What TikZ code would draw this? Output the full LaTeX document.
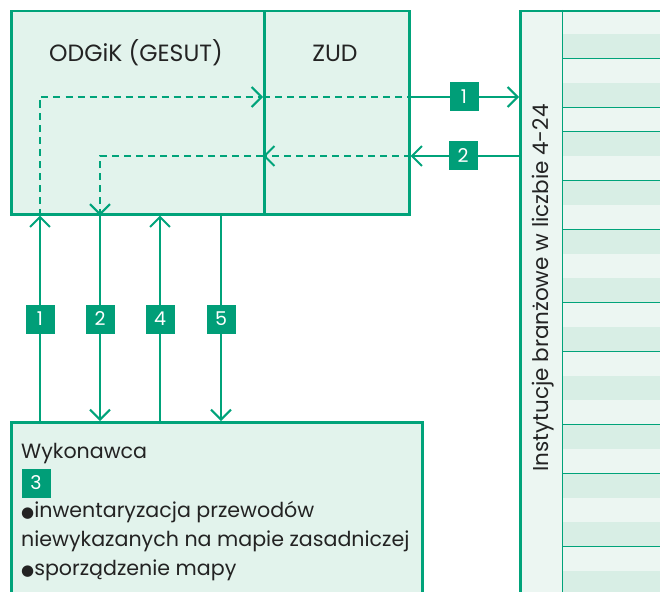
\documentclass[tikz,border=0pt]{standalone}
\usepackage{fontspec}
\setmainfont{Poppins}
\newfontfamily\symfont{DejaVu Sans}
\usetikzlibrary{arrows.meta}
\definecolor{lgreen}{RGB}{0,163,122}
\definecolor{boxfill}{RGB}{226,243,236}
\definecolor{rowlight}{RGB}{236,246,242}
\definecolor{rowdark}{RGB}{216,238,229}
\definecolor{numgreen}{RGB}{0,158,120}
\definecolor{txt}{RGB}{35,35,35}
\newcommand\bul{{\symfont\fontsize{15bp}{15bp}\selectfont ●}}
\tikzset{
  panel/.style={draw=lgreen, line width=2.5bp, fill=boxfill, anchor=north west, inner sep=0pt},
  flow/.style={draw=lgreen, line width=2bp},
  dashflow/.style={flow, dash pattern=on 7bp off 5bp},
  arrowto/.style={-{Straight Barb[length=10bp,width=20bp,line width=2bp]}},
  num/.style={fill=numgreen, text=white, minimum size=29bp, inner sep=0pt,
    font=\fontsize{19bp}{19bp}\selectfont},
  lbl/.style={text=txt, font=\fontsize{20.6bp}{29bp}\selectfont, inner sep=0pt},
  title/.style={lbl, font=\fontsize{23.5bp}{29bp}\selectfont},
  sidetitle/.style={lbl, font=\fontsize{21.5bp}{29bp}\selectfont},
}
\begin{document}
\begin{tikzpicture}[x=1bp,y=-1bp]
\clip (0,0) rectangle (660,592);
\fill[white] (0,0) rectangle (660,592);

% institutions column with striped rows
\fill[rowlight] (519,10) rectangle (562,600);
\foreach \i in {0,...,24}{
  \pgfmathsetmacro\ya{10+24.4*\i}
  \pgfmathsetmacro\yb{10+24.4*(\i+1)}
  \pgfmathparse{mod(\i,2)==0 ? "rowlight" : "rowdark"}
  \fill[\pgfmathresult] (562,\ya) rectangle (670,\yb);
  \draw[lgreen, line width=1bp] (562,\yb) -- (670,\yb);
}
\draw[lgreen, line width=1bp] (562,10) -- (562,600);
\node[draw=lgreen, line width=2.5bp, anchor=north west, minimum width=170bp,
      minimum height=600bp, inner sep=0pt] (inst) at (519,10) {};
\node[sidetitle, rotate=90] (instT) at (543,288) {Instytucje branżowe w liczbie 4-24};

% top boxes
\node[panel, minimum width=253bp, minimum height=203bp] (odgik) at (10,10) {};
\node[panel, minimum width=145bp, minimum height=203bp] (zud) at (263,10) {};
\node[title] (odgikT) at (136,53) {ODGiK (GESUT)};
\node[title] (zudT) at (335,53) {ZUD};

% contractor box
\node[panel, minimum width=411bp, minimum height=200bp] (wyk) at (10,421) {};
\node[lbl, anchor=base west] (wykT) at (21,458) {Wykonawca};
\node[num] (n3) at (36,483) {3};
\node[lbl, anchor=base west] (wykA) at (21,517) {\bul inwentaryzacja przewodów};
\node[lbl, anchor=base west] (wykB) at (21,546) {niewykazanych na mapie zasadniczej};
\node[lbl, anchor=base west] (wykC) at (21,575) {\bul sporządzenie mapy};

% turning points of the routes
\coordinate (r1) at (40,97);
\coordinate (r2) at (100,156);
\coordinate (r4) at (160,300);
\coordinate (r5) at (221,300);

% route 1
\draw[flow, arrowto] (r1 |- wyk.north) -- (r1 |- odgik.south);
\draw[dashflow, arrowto] (r1 |- odgik.south) -- (r1) -- (r1 -| zud.west);
\draw[dashflow] (r1 -| zud.west) -- (r1 -| zud.east);
\draw[flow, arrowto] (r1 -| zud.east) -- (r1 -| inst.west);

% route 2
\draw[flow, arrowto] (r2 -| inst.west) -- (r2 -| zud.east);
\draw[dashflow, arrowto] (r2 -| zud.east) -- (r2 -| zud.west);
\draw[dashflow, arrowto] (r2 -| zud.west) -- (r2) -- (r2 |- odgik.south);
\draw[flow, arrowto] (r2 |- odgik.south) -- (r2 |- wyk.north);

% routes 4 and 5
\draw[flow, arrowto] (r4 |- wyk.north) -- (r4 |- odgik.south);
\draw[flow, arrowto] (r5 |- odgik.south) -- (r5 |- wyk.north);

% step numbers
\node[num] (s1h) at (464,97) {1};
\node[num] (s2h) at (463,156) {2};
\node[num] (s1) at (40,319) {1};
\node[num] (s2) at (100,319) {2};
\node[num] (s4) at (160,319) {4};
\node[num] (s5) at (221,319) {5};
\end{tikzpicture}
\end{document}
